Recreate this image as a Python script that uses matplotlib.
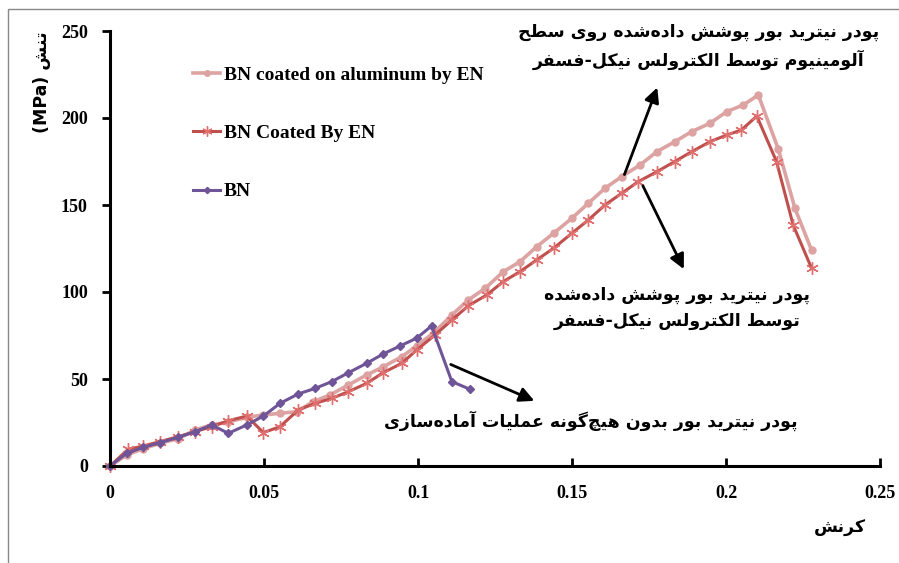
import matplotlib
matplotlib.use("Agg")
import matplotlib.pyplot as plt
from matplotlib.patches import Rectangle

# strain / stress readings (MPa)
strain_al = [0, 0.0054, 0.0108, 0.0162, 0.0222, 0.0276, 0.033, 0.0384, 0.0444, 0.0498, 0.0552,
             0.0606, 0.066, 0.0714, 0.0774, 0.0833, 0.0887, 0.0947, 0.0996, 0.1055, 0.111,
             0.1163, 0.1218, 0.1277, 0.1331, 0.1385, 0.144, 0.1499, 0.1553, 0.1607, 0.1661,
             0.1721, 0.1775, 0.1834, 0.1888, 0.1948, 0.2002, 0.2056, 0.2105, 0.217, 0.2224, 0.2278]
stress_al = [0, 6.3, 10, 13, 15.8, 20.7, 23.6, 25.3, 28, 29.3, 30.3,
             31.2, 37, 40.8, 46.6, 52.3, 57, 62.8, 69, 77.2, 86.8,
             95.4, 102.1, 111.7, 117.4, 126, 133.7, 142.3, 151, 159.6, 166.3,
             173, 180.6, 186.4, 192.1, 197, 203.6, 207.5, 213.2, 182, 148, 124]

strain_en = [0, 0.0059, 0.0108, 0.0162, 0.0222, 0.0276, 0.033, 0.0384, 0.0444, 0.0498, 0.0552,
             0.0611, 0.0666, 0.072, 0.0774, 0.0833, 0.0887, 0.0947, 0.0996, 0.1055, 0.111,
             0.1163, 0.1223, 0.1277, 0.1331, 0.1385, 0.144, 0.1499, 0.1553, 0.1607, 0.1661,
             0.1715, 0.1775, 0.1834, 0.1888, 0.1948, 0.2002, 0.205, 0.21, 0.2164, 0.2218, 0.2278]
stress_en = [0, 9.6, 11.5, 14, 16.9, 19.7, 22.6, 26, 28.7, 19.2, 22.6,
             32.2, 36, 38.9, 42.7, 47.5, 53.6, 59, 66.7, 75.3, 83.9,
             92, 98.3, 106, 111.7, 118.4, 125.1, 133.7, 141.4, 150, 156.7,
             163.4, 169.1, 175, 180.6, 186.4, 190.2, 193.1, 201.1, 175, 138.5, 113.6]

strain_bn = [0, 0.0054, 0.0108, 0.0162, 0.0222, 0.0276, 0.033, 0.0384, 0.0444, 0.0498, 0.0552,
             0.0611, 0.0666, 0.072, 0.0774, 0.0833, 0.0887, 0.0942, 0.0996, 0.1044, 0.111, 0.117]
stress_bn = [0, 7.3, 10.7, 13.4, 16.5, 19.7, 23.6, 18.8, 23.6, 28.7, 36,
             41.4, 44.6, 48.5, 53.6, 59, 64.4, 69, 73.5, 80.5, 48.5, 44]

labels = ["BN coated on aluminum by EN", "BN Coated By EN", "BN"]

# minimal persian shaping: (isolated, final, initial, medial)
FORMS = {
    "ا": (0xFE8D, 0xFE8E, None, None), "آ": (0xFE81, 0xFE82, None, None),
    "ب": (0xFE8F, 0xFE90, 0xFE91, 0xFE92), "پ": (0xFB56, 0xFB57, 0xFB58, 0xFB59),
    "ت": (0xFE95, 0xFE96, 0xFE97, 0xFE98), "ح": (0xFEA1, 0xFEA2, 0xFEA3, 0xFEA4),
    "چ": (0xFB7A, 0xFB7B, 0xFB7C, 0xFB7D), "د": (0xFEA9, 0xFEAA, None, None),
    "ر": (0xFEAD, 0xFEAE, None, None), "ز": (0xFEAF, 0xFEB0, None, None),
    "س": (0xFEB1, 0xFEB2, 0xFEB3, 0xFEB4), "ش": (0xFEB5, 0xFEB6, 0xFEB7, 0xFEB8),
    "ط": (0xFEC1, 0xFEC2, 0xFEC3, 0xFEC4), "ع": (0xFEC9, 0xFECA, 0xFECB, 0xFECC),
    "ف": (0xFED1, 0xFED2, 0xFED3, 0xFED4), "ک": (0xFB8E, 0xFB8F, 0xFB90, 0xFB91),
    "گ": (0xFB92, 0xFB93, 0xFB94, 0xFB95), "ل": (0xFEDD, 0xFEDE, 0xFEDF, 0xFEE0),
    "م": (0xFEE1, 0xFEE2, 0xFEE3, 0xFEE4), "ن": (0xFEE5, 0xFEE6, 0xFEE7, 0xFEE8),
    "و": (0xFEED, 0xFEEE, None, None), "ه": (0xFEE9, 0xFEEA, 0xFEEB, 0xFEEC),
    "ی": (0xFBFC, 0xFBFD, 0xFBFE, 0xFBFF),
}


def fa(text):
    out = []
    n = len(text)
    for i, ch in enumerate(text):
        if ch not in FORMS:
            if ch != "\u200c":
                out.append(ch)
            continue
        prev = text[i - 1] if i > 0 else ""
        nxt = text[i + 1] if i < n - 1 else ""
        join_prev = prev in FORMS and FORMS[prev][2] is not None
        join_next = nxt in FORMS and FORMS[ch][2] is not None
        iso, fin, ini, med = FORMS[ch]
        if join_prev and join_next:
            out.append(chr(med))
        elif join_prev:
            out.append(chr(fin))
        elif join_next:
            out.append(chr(ini))
        else:
            out.append(chr(iso))
    return "".join(out)[::-1]


fig = plt.figure(figsize=(8.99, 5.63), dpi=100)
ax = fig.add_axes([110 / 899, 1 - 466 / 563, 770 / 899, 435 / 563])

ax.plot(strain_al, stress_al, color="#DDA3A2", lw=2.6, marker="o", ms=5, label=labels[0])
ax.plot(strain_en, stress_en, color="#C0504D", lw=2.2, marker=(6, 2, 0), ms=9, mew=1,
        mec="#E07070", label=labels[1])
ax.plot(strain_bn, stress_bn, color="#6F5597", lw=2.2, marker="D", ms=4, label=labels[2])

ax.set_xlim(0, 0.25)
ax.set_ylim(0, 250)
ax.set_xticks([0, 0.05, 0.1, 0.15, 0.2, 0.25])
ax.set_xticklabels(["0", "0.05", "0.1", "0.15", "0.2", "0.25"])
ax.set_yticks([0, 50, 100, 150, 200, 250])
for s in ["top", "right"]:
    ax.spines[s].set_visible(False)
for s in ["left", "bottom"]:
    ax.spines[s].set_linewidth(2.2)
ax.tick_params(axis="x", direction="in", length=6, width=2, pad=14)
ax.tick_params(axis="y", direction="out", length=6, width=2, pad=10)
for lab in ax.get_xticklabels() + ax.get_yticklabels():
    lab.set_fontfamily("Liberation Serif")
    lab.set_fontweight("bold")
    lab.set_fontsize(13)
for ln in ax.lines:
    ln.set_clip_on(False)

leg = ax.legend(loc="upper left", bbox_to_anchor=(0.085, 0.96), frameon=False,
                prop={"family": "Liberation Serif", "weight": "bold", "size": 14},
                labelspacing=2.1, handlelength=1.4, handletextpad=0.2, markerscale=0.8)

fa_font = {"family": ["DejaVu Sans"], "weight": "bold", "size": 12.5}
ax.text(0.191, 241, fa("پودر نیترید بور پوشش داده\u200cشده روی سطح") + "\n" +
        fa("آلومینیوم توسط الکترولس نیکل-فسفر"), ha="center", va="center",
        linespacing=1.55, **fa_font)
ax.text(0.184, 91, fa("پودر نیترید بور پوشش داده\u200cشده") + "\n" +
        fa("توسط الکترولس نیکل-فسفر"), ha="center", va="center",
        linespacing=1.55, **fa_font)
ax.text(0.156, 26, fa("پودر نیترید بور بدون هیچ\u200cگونه عملیات آماده\u200cسازی"),
        ha="center", va="center", **fa_font)

arrow = dict(arrowstyle="-|>", color="black", lw=2, mutation_scale=22)
ax.annotate("", xy=(0.178, 219), xytext=(0.1667, 166), arrowprops=arrow)
ax.annotate("", xy=(0.1867, 111.7), xytext=(0.1726, 162.5), arrowprops=arrow)
ax.annotate("", xy=(0.1386, 36.8), xytext=(0.1098, 59), arrowprops=arrow)

fig.text(840 / 899, 1 - 528 / 563, fa("کرنش"), ha="center", va="center", **fa_font)
fig.text(42 / 899, 1 - 82 / 563, "(MPa) " + fa("تنش"), rotation=90, ha="center",
         va="center", **fa_font)

fig.patches.append(Rectangle((8 / 899, -0.1), 1.2, 1 - 9 / 563 + 0.1, transform=fig.transFigure,
                             fill=False, ec="#888888", lw=1))

fig.savefig("out.png", dpi=100)
